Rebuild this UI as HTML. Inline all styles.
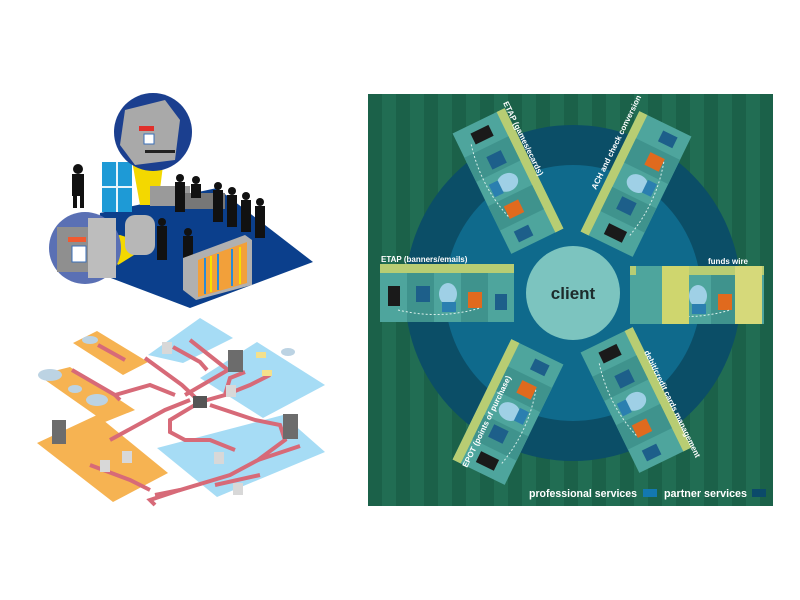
<!DOCTYPE html>
<html><head><meta charset="utf-8"><style>
html,body{margin:0;padding:0;background:#fff;width:800px;height:600px;overflow:hidden}
svg{display:block;font-family:"Liberation Sans",sans-serif}
</style></head><body>
<svg width="800" height="600" viewBox="0 0 800 600" xmlns="http://www.w3.org/2000/svg">
<defs>
<pattern id="st" width="28" height="600" patternUnits="userSpaceOnUse" x="368">
<rect width="28" height="600" fill="#1b6149"/><rect x="14" width="14" height="600" fill="#216d53"/>
</pattern>
<g id="pan">
<rect x="0" y="0" width="134" height="58" fill="#4ea59d"/>
<rect x="0" y="0" width="134" height="9" fill="#b8cd73"/>
<rect x="27" y="9" width="27" height="49" fill="#3f938d"/>
<rect x="81" y="9" width="27" height="49" fill="#3f938d"/>
<rect x="8" y="22" width="12" height="20" fill="#1a1a1a"/>
<rect x="36" y="22" width="14" height="16" fill="#1d5f8a"/>
<ellipse cx="68" cy="30" rx="9" ry="11" fill="#9fd0e6"/>
<rect x="62" y="38" width="14" height="10" fill="#2b7fb0"/>
<rect x="88" y="28" width="14" height="16" fill="#e06a1e"/>
<rect x="115" y="30" width="12" height="16" fill="#1d5f8a"/>
<path d="M18 46 Q60 56 100 44" stroke="#d8eeea" stroke-width="1" fill="none" stroke-dasharray="2 2"/>
</g>
</defs>
<!-- RIGHT PANEL -->
<rect x="368" y="94" width="405" height="412" fill="url(#st)"/>
<circle cx="573" cy="293" r="168" fill="#0b4e67"/>
<circle cx="573" cy="293" r="128" fill="#0f6a8c"/>
<circle cx="573" cy="293" r="47" fill="#7cc4bf"/>
<text x="573" y="299" text-anchor="middle" font-size="17" font-weight="bold" fill="#1d2b2b">client</text>
<use href="#pan" transform="translate(380,264)"/>
<use href="#pan" transform="translate(630,266)"/>
<rect x="636" y="266" width="26" height="58" fill="#4ea59d"/>
<rect x="662" y="266" width="27" height="58" fill="#cfd66e"/>
<rect x="735" y="266" width="27" height="58" fill="#d6d97a"/>
<use href="#pan" transform="translate(508,181) rotate(64) translate(-67,-29)"/>
<use href="#pan" transform="translate(636,184) rotate(-64) translate(-67,-29)"/>
<use href="#pan" transform="translate(508,412) rotate(-64) translate(-67,-29)"/>
<use href="#pan" transform="translate(636,400) rotate(64) translate(-67,-29)"/>
<text x="381" y="262" font-size="8" font-weight="bold" fill="#fff">ETAP (banners/emails)</text>
<text x="708" y="264" font-size="8" font-weight="bold" fill="#fff">funds wire</text>
<text transform="translate(503,103) rotate(64)" font-size="8" font-weight="bold" fill="#fff">ETAP (games/ecards)</text>
<text transform="translate(596,190) rotate(-64)" font-size="8" font-weight="bold" fill="#fff">ACH and check conversion</text>
<text transform="translate(644,352) rotate(64)" font-size="8" font-weight="bold" fill="#fff">debit/credit cards management</text>
<text transform="translate(467,468) rotate(-64)" font-size="8" font-weight="bold" fill="#fff">EPOT (points of purchase)</text>
<text x="529" y="497" font-size="11" font-weight="bold" fill="#fff" textLength="108" lengthAdjust="spacingAndGlyphs">professional services</text>
<rect x="643" y="489" width="14" height="8" fill="#1378b0"/>
<text x="664" y="497" font-size="11" font-weight="bold" fill="#fff" textLength="83" lengthAdjust="spacingAndGlyphs">partner services</text>
<rect x="752" y="489" width="14" height="8" fill="#0b4a6a"/>
<!-- LEFT TOP ILLUSTRATION -->
<polygon points="100,213 217,188 313,262 190,308 95,272" fill="#0b3f8c"/>
<rect x="102" y="162" width="30" height="50" fill="#1e9ad6"/>
<line x1="117" y1="162" x2="117" y2="212" stroke="#e8f4fb" stroke-width="2"/>
<line x1="102" y1="187" x2="132" y2="187" stroke="#e8f4fb" stroke-width="2"/>
<polygon points="130,150 165,150 158,205 140,205" fill="#f3d800"/>
<circle cx="153" cy="132" r="39" fill="#1b3f8f"/>
<polygon points="125,110 165,100 180,120 175,160 135,165 120,145" fill="#a9a9a9"/>
<rect x="139" y="126" width="15" height="5" fill="#e0302b"/>
<rect x="144" y="134" width="10" height="10" fill="#fff" stroke="#3a6fb8"/>
<rect x="145" y="150" width="30" height="3" fill="#222"/>
<rect x="150" y="186" width="40" height="20" fill="#9a9a9a"/>
<rect x="175" y="193" width="50" height="16" fill="#777"/>
<polygon points="100,240 120,235 150,245 118,265" fill="#f3d800"/>
<circle cx="85" cy="248" r="36" fill="#5a70b4"/>
<rect x="57" y="227" width="35" height="45" fill="#8f8f8f"/>
<rect x="88" y="218" width="28" height="60" fill="#bdbdbd"/>
<rect x="68" y="237" width="18" height="5" fill="#f05a30"/>
<rect x="72" y="246" width="14" height="16" fill="#fff" stroke="#3a6fb8"/>
<rect x="125" y="215" width="30" height="40" rx="10" fill="#b7b7b7"/>
<g fill="#111">
<circle cx="78" cy="169" r="5"/><rect x="72" y="174" width="12" height="22"/><rect x="73" y="196" width="4" height="12"/><rect x="80" y="196" width="4" height="12"/>
<circle cx="180" cy="178" r="4"/><rect x="175" y="182" width="10" height="30"/>
<circle cx="196" cy="180" r="4"/><rect x="191" y="184" width="10" height="14"/>
<circle cx="218" cy="186" r="4"/><rect x="213" y="190" width="10" height="32"/>
<circle cx="232" cy="191" r="4"/><rect x="227" y="195" width="10" height="32"/>
<circle cx="246" cy="196" r="4"/><rect x="241" y="200" width="10" height="32"/>
<circle cx="260" cy="202" r="4"/><rect x="255" y="206" width="10" height="32"/>
<circle cx="162" cy="222" r="4"/><rect x="157" y="226" width="10" height="34"/>
<circle cx="188" cy="232" r="4"/><rect x="183" y="236" width="10" height="34"/>
</g>
<polygon points="183,258 245,235 252,240 252,285 196,300 183,290" fill="#b0b0b0"/>
<polygon points="198,260 247,242 247,283 198,297" fill="#f2a03a"/>
<g stroke="#2a8bd6" stroke-width="2"><line x1="205" y1="258" x2="205" y2="294"/><line x1="218" y1="254" x2="218" y2="290"/><line x1="232" y1="249" x2="232" y2="286"/></g>
<g stroke="#f5e100" stroke-width="2"><line x1="211" y1="256" x2="211" y2="292"/><line x1="240" y1="247" x2="240" y2="284"/></g>
<!-- LEFT BOTTOM DIAGRAM -->
<g fill="#f6b352">
<polygon points="73,343 97,331 148,362 123,375"/>
<polygon points="38,375 70,367 135,410 105,422"/>
<polygon points="37,443 97,415 168,473 113,502"/>
</g>
<g fill="#a6dcf5">
<polygon points="148,355 200,318 233,338 183,363"/>
<polygon points="200,378 257,342 325,385 263,418"/>
<polygon points="157,448 283,415 325,452 217,497"/>
</g>
<g stroke="#d76a78" stroke-width="4" fill="none">
<polyline points="98,345 125,360"/>
<polyline points="72,370 115,395 150,385 175,395"/>
<polyline points="115,395 120,400"/>
<polyline points="145,358 182,385 200,402"/>
<polyline points="173,347 200,362 207,370"/>
<polyline points="190,340 228,370 185,395"/>
<polyline points="110,440 165,410 190,400"/>
<polyline points="200,402 225,395 230,378 245,372"/>
<polyline points="225,395 250,385 270,375"/>
<polyline points="200,402 170,420 170,432 185,440 210,440 235,450"/>
<polyline points="210,405 255,420 280,425 285,440 258,460 230,475 180,490 155,495"/>
<polyline points="258,460 300,446"/>
<polyline points="90,465 130,480 150,490"/>
<polyline points="180,490 150,500 155,505"/>
<polyline points="215,485 260,475"/>
</g>
<g fill="#6c6c6c">
<rect x="228" y="350" width="15" height="22"/>
<rect x="283" y="414" width="15" height="25"/>
<rect x="193" y="396" width="14" height="12" fill="#555"/>
<rect x="52" y="420" width="14" height="24"/>
</g>
<g fill="#d8d8d8">
<rect x="162" y="342" width="10" height="12"/><rect x="226" y="385" width="10" height="12"/>
<rect x="214" y="452" width="10" height="12"/><rect x="122" y="451" width="10" height="12"/>
<rect x="100" y="460" width="10" height="12"/><rect x="233" y="483" width="10" height="12"/>
</g>
<g fill="#bcd3e3">
<ellipse cx="90" cy="340" rx="8" ry="4"/><ellipse cx="50" cy="375" rx="12" ry="6"/>
<ellipse cx="75" cy="389" rx="7" ry="4"/><ellipse cx="97" cy="400" rx="11" ry="6"/>
<ellipse cx="288" cy="352" rx="7" ry="4"/>
</g>
<g fill="#f4e08c"><rect x="256" y="352" width="10" height="6"/><rect x="262" y="370" width="10" height="6"/></g>
</svg>
</body></html>
